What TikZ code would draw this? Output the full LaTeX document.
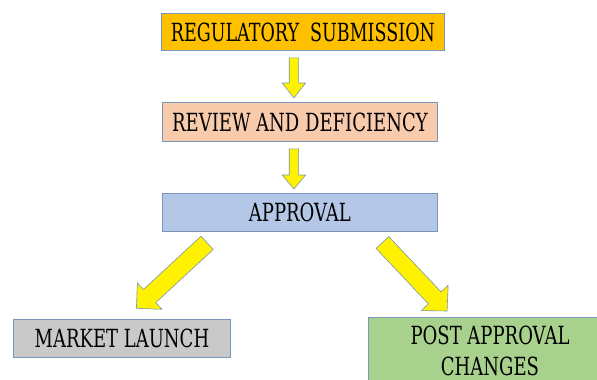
\documentclass[tikz,border=0pt]{standalone}
\usepackage{fontspec}
\setmainfont{DejaVu Serif}[FakeStretch=0.72]
\newfontfamily\regfont{DejaVu Serif}[FakeStretch=0.70]
\usetikzlibrary{calc}
\definecolor{boxline}{RGB}{120,150,185}
\definecolor{arrowline}{RGB}{125,150,170}
\definecolor{regorange}{RGB}{255,192,0}
\definecolor{revpeach}{RGB}{248,203,173}
\definecolor{appblue}{RGB}{180,199,231}
\definecolor{mktgray}{RGB}{201,201,201}
\definecolor{postgreen}{RGB}{169,209,142}
\tikzset{
  flowbox/.style={draw=boxline, line width=0.8pt, rectangle, anchor=north west,
    inner sep=0pt, text height=18.2pt, text depth=0pt,
    font=\fontsize{25}{33}\selectfont},
  boxtext/.style={inner sep=0pt, align=center, font=\fontsize{25}{31}\selectfont},
  blockarrow/.style={fill=yellow, draw=arrowline, line width=0.6pt, line join=miter},
}
% #1 start, #2 tip, #3 shaft half width, #4 head half width, #5 head length
\newcommand\blockarrowdraw[5]{%
  \coordinate (hb) at ($(#2)!#5!(#1)$);
  \filldraw[blockarrow] ($(#1)!#3!90:(#2)$) -- ($(hb)!#3!90:(#2)$) -- ($(hb)!#4!90:(#2)$)
    -- (#2) -- ($(hb)!#4!-90:(#2)$) -- ($(hb)!#3!-90:(#2)$) -- ($(#1)!#3!-90:(#2)$) -- cycle;}
\begin{document}
\begin{tikzpicture}[x=1pt,y=-1pt]
\clip (0,0) rectangle (597,380);
\fill[white] (0,0) rectangle (597,380);

\node[flowbox, fill=regorange, minimum width=283pt, minimum height=37pt, font=\fontsize{25}{33}\regfont] (reg) at (161,13) {REGULATORY\ \ SUBMISSION};
\node[flowbox, fill=revpeach, minimum width=275pt, minimum height=39pt] (rev) at (162,102) {REVIEW AND DEFICIENCY};
\node[flowbox, fill=appblue, minimum width=275pt, minimum height=38pt] (app) at (162,193) {APPROVAL};
\node[flowbox, fill=mktgray, minimum width=217pt, minimum height=38pt] (mkt) at (13,319) {MARKET LAUNCH};
\node[flowbox, fill=postgreen, minimum width=231pt, minimum height=70pt] (post) at (368,317) {};
\node[boxtext, anchor=north] (posttxt) at (490,326) {POST APPROVAL\\CHANGES};

\coordinate (a1s) at ($(reg.south)+(-9,7)$);
\coordinate (a1t) at ($(rev.north)+(-6,-4)$);
\coordinate (a2s) at ($(rev.south)+(-6,7)$);
\coordinate (a2t) at ($(app.north)+(-6,-4)$);
\coordinate (a3s) at ($(app.south)+(-92.8,11)$);
\coordinate (a3t) at ($(mkt.north)+(14.5,-10.7)$);
\coordinate (a4s) at ($(app.south)+(82.5,10.7)$);
\coordinate (a4t) at ($(post.north)+(-36.8,-6)$);

\blockarrowdraw{a1s}{a1t}{4.7pt}{11.7pt}{15pt}
\blockarrowdraw{a2s}{a2t}{4.7pt}{11.7pt}{14pt}
\blockarrowdraw{a3s}{a3t}{9pt}{18pt}{18pt}
\blockarrowdraw{a4s}{a4t}{8.7pt}{18.4pt}{18pt}
\end{tikzpicture}
\end{document}
